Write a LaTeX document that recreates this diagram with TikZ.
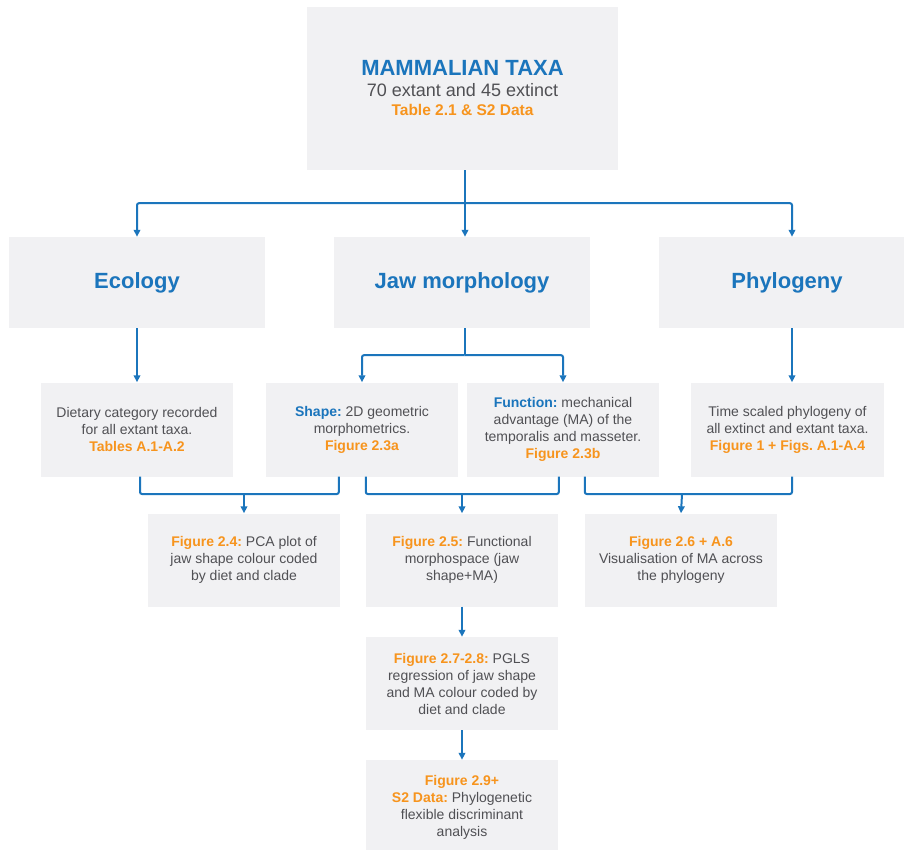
\documentclass[tikz,border=0pt]{standalone}
\usepackage{fontspec}
\setmainfont{Liberation Sans}
\usetikzlibrary{arrows.meta,calc}
\definecolor{cblue}{RGB}{27,117,188}
\definecolor{corange}{RGB}{247,148,29}
\definecolor{cgray}{RGB}{80,80,84}
\definecolor{cfill}{RGB}{241,241,243}
\newcommand\orng[1]{\textcolor{corange}{\bfseries #1}}
\newcommand\blu[1]{\textcolor{cblue}{\bfseries #1}}
\frenchspacing
\begin{document}
\begin{tikzpicture}[x=1pt,y=-1pt,
  box/.style={fill=cfill, draw=none, inner sep=0pt, align=center, text=cgray,
    font=\fontsize{14}{17}\selectfont\frenchspacing},
  hd/.style={box, minimum width=256pt, minimum height=91pt,
    font=\fontsize{22}{26}\selectfont\bfseries, text=cblue},
  sm/.style={box, minimum width=192pt, minimum height=94pt},
  line/.style={draw=cblue, line width=2pt, rounded corners=2pt},
  arr/.style={line, -{Triangle[length=7pt,width=6.5pt]}},
]
\clip (0,0) rectangle (904,849);
\fill[white] (0,0) rectangle (904,849);

% top
\node[box, minimum width=311pt, minimum height=163pt, font=\fontsize{18}{21}\selectfont] (top) at (462.5,88.5)
  {{\fontsize{22}{22}\selectfont\bfseries\color{cblue}MAMMALIAN TAXA}\\
   70 extant and 45 extinct\\[-2pt]
   {\fontsize{15.5}{18}\selectfont\orng{Table 2.1 \& S2 Data}}};

% headers
\node[hd] (eco) at (137,282.5) {Ecology};
\node[hd] (jaw) at (462,282.5) {Jaw morphology};
\node[hd] (phy) at (787,282.5) {Phylogeny};

% row 3
\node[sm] (diet) at (137,429.5) {Dietary category recorded\\ for all extant taxa.\\ \orng{Tables A.1-A.2}};
\node[sm] (shape) at (362,429.5) {\blu{Shape:} 2D geometric\\ morphometrics.\\ \orng{Figure 2.3a}};
\node[sm] (func) at (563,429.5) {\blu{Function:} mechanical\\ advantage (MA) of the\\ temporalis and masseter.\\ \orng{Figure 2.3b}};
\node[sm, minimum width=193pt] (time) at (787.5,429.5) {Time scaled phylogeny of\\ all extinct and extant taxa.\\ \orng{Figure 1 + Figs. A.1-A.4}};

% row 4
\node[sm, minimum height=93pt] (fig24) at (244,560) {\orng{Figure 2.4:} PCA plot of\\ jaw shape colour coded\\ by diet and clade};
\node[sm, minimum height=93pt] (fig25) at (462,560) {\orng{Figure 2.5:} Functional\\ morphospace (jaw\\ shape+MA)};
\node[sm, minimum height=93pt] (fig26) at (681,560) {\orng{Figure 2.6 + A.6}\\ Visualisation of MA across\\ the phylogeny};

% column
\node[sm, minimum height=93pt] (fig27) at (462,683.5) {\orng{Figure 2.7-2.8:} PGLS\\ regression of jaw shape\\ and MA colour coded by\\ diet and clade};
\node[sm, minimum height=95pt] (fig29) at (462,807.5) {\orng{Figure 2.9+}\\ \orng{S2 Data:} Phylogenetic\\ flexible discriminant\\ analysis};

% connectors top
\coordinate (tS) at ($(top.south)+(2.5,0)$);
\coordinate (hub) at ($(tS)+(0,33)$);
\coordinate (pN) at ($(phy.north)+(5,0)$);
\coordinate (pS) at ($(phy.south)+(5,0)$);
\draw[line] (tS) -- (hub);
\draw[arr] (hub) -| (eco.north);
\draw[arr] (hub) -- (hub |- jaw.north);
\draw[arr] (hub) -| (pN);

% headers to row 3
\draw[arr] (eco.south) -- (diet.north);
\coordinate (jS) at ($(jaw.south)+(2.5,0)$);
\coordinate (jhub) at ($(jS)+(0,27)$);
\draw[line] (jS) -- (jhub);
\draw[arr] (jhub) -| (shape.north);
\draw[arr] (jhub) -| (func.north);
\draw[arr] (pS) -- (pS |- time.north);

% brackets
\coordinate (s1) at ($(shape.south west)+(73,0)$);
\coordinate (s2) at ($(shape.south west)+(100,0)$);
\coordinate (f1) at ($(func.south west)+(92,0)$);
\coordinate (f2) at ($(func.south west)+(118,0)$);
\coordinate (t1) at (pS |- time.south);
\coordinate (d1) at ($(diet.south)+(3,0)$);
\coordinate (b1) at (244,494);
\coordinate (b2) at (462,494);
\coordinate (b3) at (682,494);

\draw[line] (d1) |- (s1 |- b1) -- (s1);
\draw[arr] (b1) -- (fig24.north);
\draw[line] (s2) |- (f1 |- b2) -- (f1);
\draw[arr] (b2) -- (fig25.north);
\draw[line] (f2) |- (t1 |- b3) -- (t1);
\draw[arr] (b3) -- (fig26.north);

\draw[arr] (fig25) -- (fig27);
\draw[arr] (fig27) -- (fig29);
\end{tikzpicture}
\end{document}
